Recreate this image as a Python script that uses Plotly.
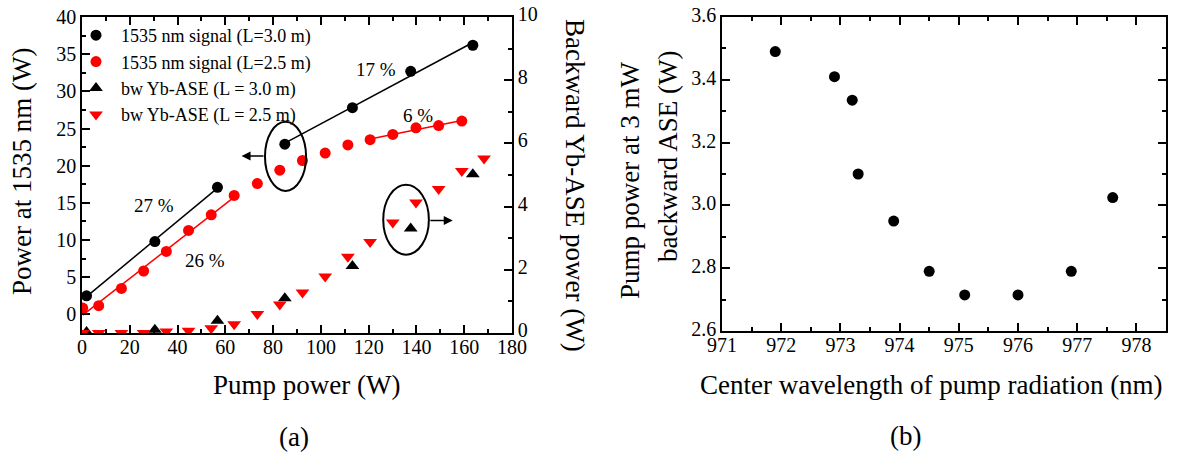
import numpy as np
import plotly.graph_objects as go

# ---------------- data: panel (a) ----------------
pump_L30 = [1.9, 30.5, 56.7, 84.9, 113.2, 137.6, 163.6]
signal_L30 = [2.5, 9.8, 17.1, 22.9, 27.8, 32.7, 36.2]
ase_L30 = [0.03, 0.1, 0.39, 1.1, 2.12, 3.31, 5.02]

pump_L25 = [0.3, 7.0, 16.5, 25.8, 35.3, 44.6, 54.1, 63.7, 73.4, 82.8,
            92.3, 101.8, 111.3, 120.6, 130.1, 139.8, 149.3, 159.0]
signal_L25 = [0.86, 1.17, 3.5, 5.84, 8.47, 11.3, 13.4, 16.0, 17.6, 19.4,
              20.7, 21.7, 22.8, 23.5, 24.2, 25.1, 25.4, 26.0]
pump_ase_L25 = [0.3, 7.0, 16.5, 25.8, 35.3, 44.6, 54.1, 63.7, 73.4, 82.8,
                92.3, 101.8, 111.3, 120.6, 130.1, 139.8, 149.3, 159.0, 168.3]
ase_L25 = [0.0, 0.0, 0.0, 0.0, 0.05, 0.07, 0.15, 0.28, 0.60, 0.90,
           1.28, 1.79, 2.41, 2.88, 3.50, 4.13, 4.56, 5.13, 5.52]

# slope-efficiency fit segments (index ranges into the series above)
fit_segments = [
    ("L30", 0, 3, "black"),   # 27 %
    ("L30", 3, 7, "black"),   # 17 %
    ("L25", 0, 8, "red"),     # 26 %
    ("L25", 13, 18, "red"),   # 6 %
]
eff_labels = ["27 %", "26 %", "17 %", "6 %"]
eff_pos_x = [30.1, 51.5, 123.0, 140.6]
eff_pos_y = [14.6, 7.2, 33.0, 26.7]

# ---------------- data: panel (b) ----------------
wavelength = [971.9, 972.9, 973.2, 973.3, 973.9, 974.5, 975.1, 976.0, 976.9, 977.6]
pump_at_3mW = [3.49, 3.41, 3.335, 3.10, 2.95, 2.79, 2.715, 2.715, 2.79, 3.025]

FONT = "Liberation Serif"
W, H = 1178, 452

fig = go.Figure()

# fit lines
series = {"L30": (pump_L30, signal_L30), "L25": (pump_L25, signal_L25)}
for key, i0, i1, col in fit_segments:
    xs = np.array(series[key][0][i0:i1])
    ys = np.array(series[key][1][i0:i1])
    k, b = np.polyfit(xs, ys, 1)
    xl = np.array([xs.min(), xs.max()])
    fig.add_trace(go.Scatter(x=xl, y=k * xl + b, mode="lines",
                             line=dict(color=col, width=1.5),
                             showlegend=False, hoverinfo="skip",
                             xaxis="x", yaxis="y"))

fig.add_trace(go.Scatter(x=pump_L30, y=signal_L30, mode="markers",
                         name="1535 nm signal (L=3.0 m)",
                         marker=dict(color="black", size=11, symbol="circle"),
                         xaxis="x", yaxis="y"))
fig.add_trace(go.Scatter(x=pump_L25, y=signal_L25, mode="markers",
                         name="1535 nm signal (L=2.5 m)",
                         marker=dict(color="red", size=11, symbol="circle"),
                         xaxis="x", yaxis="y"))
fig.add_trace(go.Scatter(x=pump_L30, y=ase_L30, mode="markers",
                         name="bw Yb-ASE (L = 3.0 m)",
                         marker=dict(color="black", size=12, symbol="triangle-up"),
                         xaxis="x", yaxis="y2"))
fig.add_trace(go.Scatter(x=pump_ase_L25, y=ase_L25, mode="markers",
                         name="bw Yb-ASE (L = 2.5 m)",
                         marker=dict(color="red", size=12, symbol="triangle-down"),
                         xaxis="x", yaxis="y2"))

fig.add_trace(go.Scatter(x=wavelength, y=pump_at_3mW, mode="markers",
                         marker=dict(color="black", size=11),
                         showlegend=False, xaxis="x2", yaxis="y3"))

axis_common = dict(showline=True, linecolor="black", linewidth=1.5,
                   ticks="inside", ticklen=8, tickwidth=1.5, tickcolor="black",
                   showgrid=False, zeroline=False, automargin=False,
                   tickfont=dict(family=FONT, size=20, color="black"),
                   minor=dict(ticks="inside", ticklen=4, tickwidth=1.5, tickcolor="black", showgrid=False))

def px_x(p):
    return p / W

def px_y(p):
    return 1 - p / H

fig.update_layout(
    width=W, height=H, autosize=False,
    margin=dict(l=0, r=0, t=0, b=0, autoexpand=False),
    paper_bgcolor="white", plot_bgcolor="white",
    font=dict(family=FONT, color="black"),
    xaxis=dict(domain=[px_x(82), px_x(512)], range=[0, 180], dtick=20, tick0=0,
               anchor="y", mirror="ticks", ticklabelstandoff=-5,
               **{**axis_common, "minor": dict(axis_common["minor"], dtick=10)}),
    yaxis=dict(domain=[px_y(333), px_y(17)], range=[-2.5, 40], dtick=5, tick0=0,
               anchor="x", mirror=False, **{**axis_common, "minor": dict(axis_common["minor"], dtick=2.5, tick0=0)}),
    yaxis2=dict(overlaying="y", side="right", anchor="x", range=[0, 10], dtick=2, tick0=0,
                ticklabelshift=-3,
                **{**axis_common, "minor": dict(axis_common["minor"], dtick=1)}),
    xaxis2=dict(domain=[px_x(722), px_x(1166)], range=[971, 978.5], dtick=1, tick0=971,
                anchor="y3", mirror="ticks", ticklabelstandoff=-5,
                **{**axis_common, "minor": dict(axis_common["minor"], dtick=0.5)}),
    yaxis3=dict(domain=[px_y(331), px_y(17)], range=[2.6, 3.6], dtick=0.2, tick0=2.6,
                tickformat=".1f", anchor="x2", mirror="ticks", ticklabelshift=-2,
                **{**axis_common, "minor": dict(axis_common["minor"], dtick=0.1)}),
    legend=dict(x=px_x(71), y=px_y(17), xanchor="left", yanchor="top",
                bgcolor="rgba(0,0,0,0)", borderwidth=0,
                font=dict(family=FONT, size=18, color="black"),
                itemwidth=40, tracegroupgap=0),
    showlegend=True,
)

# efficiency labels
for t, xx, yy in zip(eff_labels, eff_pos_x, eff_pos_y):
    fig.add_annotation(x=xx, y=yy, xref="x", yref="y", text=t, showarrow=False,
                       font=dict(family=FONT, size=19, color="black"))

# ellipses + arrows
fig.add_shape(type="circle", xref="x", yref="y", x0=76.6, x1=93.8, y0=16.6, y1=25.9,
              line=dict(color="black", width=2))
fig.add_annotation(x=66.8, y=21.3, ax=76.6, ay=21.3, xref="x", yref="y", axref="x", ayref="y",
                   text="", showarrow=True, arrowhead=2, arrowsize=1.2, arrowwidth=1.5,
                   arrowcolor="black")
fig.add_shape(type="circle", xref="x", yref="y2", x0=126.1, x1=145.2, y0=2.48, y1=4.69,
              line=dict(color="black", width=2))
fig.add_annotation(x=155.2, y=3.56, ax=145.2, ay=3.56, xref="x", yref="y2", axref="x", ayref="y2",
                   text="", showarrow=True, arrowhead=2, arrowsize=1.2, arrowwidth=1.5,
                   arrowcolor="black")

# axis titles and panel labels
def label(text, x, y, size=27, angle=0):
    fig.add_annotation(x=px_x(x), y=px_y(y), xref="paper", yref="paper", text=text,
                       showarrow=False, textangle=angle, xanchor="center", yanchor="middle",
                       font=dict(family=FONT, size=size, color="black"))

label("Power at 1535 nm (W)", 22, 172, angle=-90)
label("Backward Yb-ASE power (W)", 575, 185, angle=90)
label("Pump power (W)", 306, 385)
label("(a)", 294, 437)
label("Pump power at 3 mW", 630, 181, angle=-90)
label("backward ASE (W)", 668, 157, angle=-90)
label("Center wavelength of pump radiation (nm)", 931, 385)
label("(b)", 905, 436)

fig.write_html("out.html")
